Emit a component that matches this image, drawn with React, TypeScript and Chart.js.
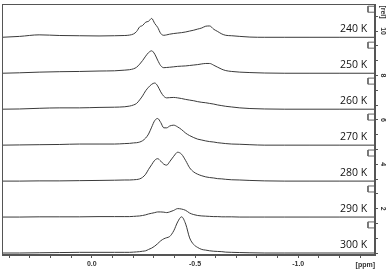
import { useEffect, useRef } from 'react';
import { Chart, registerables } from 'chart.js';

Chart.register(...registerables);

// Temperatures (top to bottom) and their stacked baseline offsets [rel]
const temperatures = ['240 K', '250 K', '260 K', '270 K', '280 K', '290 K', '300 K'];
const baselineOffsets = [9.72, 8.1, 6.48, 4.86, 3.24, 1.62, 0];

// Chemical shift grid [ppm]
const shiftPpm = [
  0.435, 0.35, 0.255, 0.155, 0.06, -0.035, -0.11, -0.16, -0.183, -0.202,
  -0.217, -0.232, -0.246, -0.261, -0.275, -0.29, -0.305, -0.319, -0.334, -0.349,
  -0.363, -0.377, -0.397, -0.416, -0.435, -0.455, -0.474, -0.494, -0.513, -0.533,
  -0.552, -0.571, -0.591, -0.61, -0.63, -0.649, -0.678, -0.717, -0.766, -0.838,
  -0.935, -1.057, -1.202, -1.372,
];

// Intensities above each baseline [rel]
const intensity240 = [
  0, 0.04, 0.11, 0.08, 0.07, 0.06, 0.07, 0.08, 0.1, 0.15,
  0.26, 0.47, 0.53, 0.68, 0.72, 0.85, 0.62, 0.45, 0.17, 0.09,
  0.11, 0.14, 0.17, 0.19, 0.21, 0.24, 0.28, 0.32, 0.37, 0.42,
  0.5, 0.51, 0.36, 0.26, 0.15, 0.09, 0.07, 0.04, 0.01, 0,
  0, 0, 0, 0,
];
const intensity250 = [
  0, 0.02, 0.05, 0.07, 0.08, 0.1, 0.11, 0.14, 0.16, 0.2,
  0.27, 0.41, 0.57, 0.77, 0.93, 1.01, 0.86, 0.59, 0.34, 0.25,
  0.26, 0.27, 0.29, 0.31, 0.32, 0.33, 0.35, 0.37, 0.39, 0.42,
  0.44, 0.44, 0.36, 0.27, 0.18, 0.12, 0.08, 0.05, 0.03, 0.01,
  0, 0, 0, 0,
];
const intensity260 = [
  0, 0.01, 0.04, 0.06, 0.06, 0.08, 0.09, 0.11, 0.14, 0.19,
  0.26, 0.42, 0.6, 0.83, 0.99, 1.12, 1.18, 1.05, 0.78, 0.58,
  0.51, 0.52, 0.53, 0.51, 0.48, 0.44, 0.41, 0.38, 0.34, 0.31,
  0.29, 0.26, 0.23, 0.19, 0.16, 0.13, 0.1, 0.06, 0.03, 0.01,
  0, 0, 0, 0,
];
const intensity270 = [
  0, 0.01, 0.02, 0.03, 0.05, 0.05, 0.05, 0.07, 0.08, 0.1,
  0.11, 0.14, 0.2, 0.32, 0.5, 0.81, 1.11, 1.2, 1.02, 0.78,
  0.78, 0.86, 0.9, 0.82, 0.7, 0.54, 0.43, 0.34, 0.27, 0.23,
  0.19, 0.16, 0.14, 0.11, 0.09, 0.07, 0.05, 0.04, 0.02, 0,
  0, 0, 0, 0,
];
const intensity280 = [
  0, 0, 0.01, 0.01, 0.02, 0.03, 0.04, 0.05, 0.05, 0.06,
  0.07, 0.1, 0.17, 0.31, 0.53, 0.74, 0.94, 1.01, 0.9, 0.76,
  0.72, 0.87, 1.12, 1.3, 1.21, 0.92, 0.6, 0.41, 0.31, 0.24,
  0.19, 0.16, 0.14, 0.11, 0.1, 0.08, 0.06, 0.05, 0.03, 0.01,
  0, 0, 0, 0,
];
const intensity290 = [
  0, 0, 0.01, 0.01, 0.01, 0.02, 0.02, 0.02, 0.02, 0.03,
  0.04, 0.05, 0.07, 0.1, 0.14, 0.17, 0.2, 0.23, 0.23, 0.22,
  0.2, 0.23, 0.3, 0.38, 0.36, 0.3, 0.18, 0.11, 0.07, 0.05,
  0.04, 0.03, 0.02, 0.02, 0.01, 0.01, 0.01, 0, 0, 0,
  0, 0, 0, 0,
];
const intensity300 = [
  0, 0, 0.01, 0.02, 0.03, 0.03, 0.03, 0.03, 0.03, 0.04,
  0.05, 0.06, 0.08, 0.1, 0.16, 0.22, 0.31, 0.42, 0.55, 0.64,
  0.69, 0.74, 1.0, 1.4, 1.63, 1.3, 0.68, 0.38, 0.25, 0.16,
  0.13, 0.1, 0.08, 0.07, 0.06, 0.04, 0.03, 0.02, 0.01, 0,
  0, 0, 0, 0,
];
const spectra = [intensity240, intensity250, intensity260, intensity270, intensity280, intensity290, intensity300];

// Axis ticks and labels
const xTickValues = [0.4, 0.3, 0.2, 0.1, 0, -0.1, -0.2, -0.3, -0.4, -0.5, -0.6, -0.7, -0.8, -0.9, -1.0, -1.1, -1.2, -1.3];
const xLabelValues = [0, -0.5, -1.0];
const xLabelTexts = ['0.0', '-0.5', '-1.0'];
const xUnitLabel = '[ppm]';
const yTickValues = [0, 0.667, 1.333, 2, 2.667, 3.333, 4, 4.667, 5.333, 6, 6.667, 7.333, 8, 8.667, 9.333, 10, 10.667];
const yLabelValues = [2, 4, 6, 8, 10];
const yLabelTexts = ['2', '4', '6', '8', '10'];
const yUnitLabel = '[rel]';

// Range
const xMin = -1.372;
const xMax = 0.435;
const yMin = -0.09;
const yMax = 11.22;

// Offset marker box (top above baseline, height) and label anchor
const boxTopAbove = 1.4;
const boxHeight = 0.27;
const boxLeftPpm = -1.338;
const labelPpm = -1.334;
const labelAbove = 0.22;

const AXIS_COLOR = '#555';
const TEXT_COLOR = '#333';

const overlayPlugin = {
  id: 'overlay',
  afterDatasetsDraw(chart: any) {
    const { ctx, chartArea } = chart;
    const xs = chart.scales.x;
    const ys = chart.scales.y;
    ctx.save();
    // frame
    ctx.strokeStyle = AXIS_COLOR;
    ctx.lineWidth = 1;
    ctx.strokeRect(
      Math.round(chartArea.left) + 0.5,
      Math.round(chartArea.top) + 0.5,
      Math.round(chartArea.right - chartArea.left) - 1,
      Math.round(chartArea.bottom - chartArea.top) - 1,
    );
    // temperature labels
    ctx.fillStyle = '#111';
    ctx.font = '10.5px "Open Sans"';
    ctx.textAlign = 'right';
    ctx.textBaseline = 'alphabetic';
    temperatures.forEach((t, i) => {
      ctx.fillText(t, xs.getPixelForValue(labelPpm), ys.getPixelForValue(baselineOffsets[i] + labelAbove));
    });
    // rotated right-axis labels
    ctx.fillStyle = TEXT_COLOR;
    ctx.font = 'bold 7px "Liberation Sans"';
    ctx.textAlign = 'center';
    ctx.textBaseline = 'middle';
    const lx = chartArea.right + 8;
    yLabelValues.forEach((v, i) => {
      ctx.save();
      ctx.translate(lx, ys.getPixelForValue(v));
      ctx.rotate(Math.PI / 2);
      ctx.fillText(yLabelTexts[i], 0, 0);
      ctx.restore();
    });
    ctx.save();
    ctx.translate(lx, chartArea.top + 8);
    ctx.rotate(Math.PI / 2);
    ctx.fillText(yUnitLabel, 0, 0);
    ctx.restore();
    // x unit label
    ctx.textAlign = 'center';
    ctx.textBaseline = 'middle';
    ctx.fillText(xUnitLabel, xs.getPixelForValue(-1.325), chartArea.bottom + 10);
    ctx.restore();
  },
};

export default function App() {
  const canvasRef = useRef<HTMLCanvasElement | null>(null);

  useEffect(() => {
    if (!canvasRef.current) return;
    const traceSets = spectra.map((vals, i) => ({
      label: temperatures[i],
      data: shiftPpm.map((x, j) => ({ x, y: baselineOffsets[i] + vals[j] })),
      borderColor: '#3a3a3a',
      borderWidth: 1,
      pointRadius: 0,
      fill: false,
      cubicInterpolationMode: 'monotone' as const,
    }));
    const boxSets = baselineOffsets.map((off) => {
      const top = off + boxTopAbove;
      return {
        label: 'box',
        data: [
          { x: xMin, y: top },
          { x: boxLeftPpm, y: top },
          { x: boxLeftPpm, y: top - boxHeight },
          { x: xMin, y: top - boxHeight },
        ],
        borderColor: '#666',
        borderWidth: 1,
        pointRadius: 0,
        fill: false,
        tension: 0,
      };
    });

    const chart = new Chart(canvasRef.current, {
      type: 'line',
      data: { datasets: [...traceSets, ...boxSets] as any },
      plugins: [overlayPlugin],
      options: {
        animation: false,
        responsive: false,
        maintainAspectRatio: false,
        parsing: true,
        layout: { padding: { left: 2, top: 4, right: 0, bottom: 0 } },
        plugins: { legend: { display: false }, tooltip: { enabled: false } },
        scales: {
          x: {
            type: 'linear',
            reverse: true,
            min: xMin,
            max: xMax,
            afterBuildTicks: (scale: any) => {
              scale.ticks = xTickValues.map((v) => ({ value: v }));
            },
            afterFit: (scale: any) => {
              scale.height = 16;
            },
            grid: { drawOnChartArea: false, drawTicks: true, tickLength: 3, color: AXIS_COLOR },
            border: { display: true, color: AXIS_COLOR },
            ticks: {
              autoSkip: false,
              maxRotation: 0,
              minRotation: 0,
              padding: 2,
              color: TEXT_COLOR,
              font: { family: '"Liberation Sans"', size: 7, weight: 'bold' },
              callback: (value: any) => {
                const k = xLabelValues.findIndex((v) => Math.abs(v - Number(value)) < 1e-6);
                return k >= 0 ? xLabelTexts[k] : '';
              },
            },
          },
          y: {
            type: 'linear',
            position: 'right',
            min: yMin,
            max: yMax,
            afterBuildTicks: (scale: any) => {
              scale.ticks = yTickValues.map((v) => ({ value: v }));
            },
            afterFit: (scale: any) => {
              scale.width = 16;
            },
            grid: { drawOnChartArea: false, drawTicks: true, tickLength: 3, color: AXIS_COLOR },
            border: { display: true, color: AXIS_COLOR },
            ticks: { display: false },
          },
        },
      },
    } as any);
    return () => chart.destroy();
  }, []);

  return (
    <div style={{ position: 'fixed', left: 0, top: 0, width: 391, height: 271, background: '#fff' }}>
      <canvas ref={canvasRef} width={391} height={271} style={{ display: 'block' }} />
    </div>
  );
}
